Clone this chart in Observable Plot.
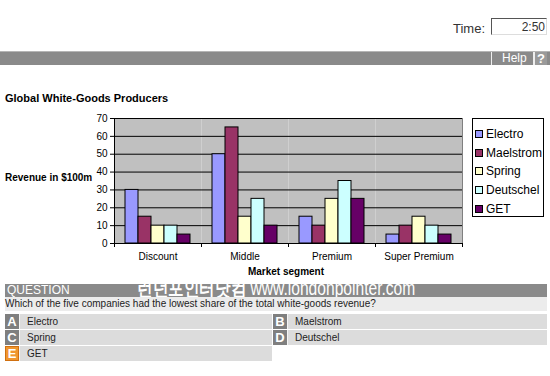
<!DOCTYPE html>
<html>
<head>
<meta charset="utf-8">
<script src="https://cdn.jsdelivr.net/npm/d3@7"></script>
<script src="https://cdn.jsdelivr.net/npm/@observablehq/plot@0.6"></script>
<style>
  html, body { margin: 0; padding: 0; background: #fff; }
  body { width: 550px; height: 376px; position: relative; overflow: hidden; font-family: "Liberation Sans", Arial, sans-serif; }
  .abs { position: absolute; white-space: nowrap; }
  .opt { position: absolute; height: 15px; background: #dcdcdc; }
  .opt .letter { position: absolute; left: 0; top: 0; width: 14px; height: 15px; background: #7f7f7f; color: #fff; font-weight: bold; font-size: 13px; line-height: 15px; text-align: center; }
  .opt .txt { position: absolute; left: 22px; top: 0; font-size: 10px; line-height: 15px; color: #222; }
  .legend-item { position: absolute; left: 2px; height: 14px; font-size: 12px; line-height: 14px; }
  .legend-item .sw { position: absolute; left: 0; top: 3px; width: 6px; height: 6px; border: 1px solid #000; }
  .legend-item .lt { position: absolute; left: 11px; top: 0; }
</style>
</head>
<body>
<div class="abs" style="left:453px;top:21px;font-size:13px;line-height:15px;color:#333;">Time:</div>
<div class="abs" style="left:491px;top:18px;width:53px;height:15px;border-style:solid;border-width:1px;border-color:#555 #ddd #ddd #555;font-size:12px;line-height:16px;text-align:right;padding-right:1px;color:#333;">2:50</div>

<div class="abs" style="left:0;top:51px;width:550px;height:13px;background:#8a8a8a;border-top:1px solid #b5b5b5;"></div>
<div class="abs" style="left:491px;top:52px;width:1px;height:13px;background:#eee;"></div>
<div class="abs" style="left:502px;top:52px;font-size:12px;line-height:13px;color:#fff;">Help</div>
<div class="abs" style="left:533px;top:52px;width:2px;height:13px;background:#eee;"></div>
<div class="abs" style="left:535px;top:52px;width:12px;height:13px;background:#9a9a9a;color:#fff;font-weight:bold;font-size:13px;line-height:13px;text-align:center;">?</div>

<div class="abs" style="left:5px;top:92px;font-size:11px;line-height:13px;font-weight:bold;color:#000;">Global White-Goods Producers</div>
<div class="abs" style="left:5px;top:172px;font-size:10px;line-height:12px;font-weight:bold;color:#000;">Revenue in $100m</div>
<div class="abs" style="left:186px;top:266px;width:200px;text-align:center;font-size:10px;line-height:12px;font-weight:bold;color:#000;">Market segment</div>

<div id="chart" class="abs" style="left:0;top:105px;"></div>
<div id="legend" class="abs" style="left:472px;top:118px;width:70px;height:97px;border:1px solid #000;background:#fff;"></div>

<div class="abs" style="left:5px;top:284px;width:542px;height:13px;background:#8a8a8a;"></div>
<div class="abs" style="left:7px;top:284px;font-size:12px;line-height:13px;color:#fff;">QUESTION</div>
<div class="abs" style="left:137px;top:278px;font-size:20px;line-height:20px;color:#fff;transform:scaleX(0.78);transform-origin:left top;"><b>런던포인터닷컴</b> www.londonpointer.com</div>
<div class="abs" style="left:5px;top:297px;width:542px;height:14px;background:#ececec;"></div>
<div class="abs" style="left:5px;top:297px;font-size:10px;line-height:14px;color:#222;">Which of the five companies had the lowest share of the total white-goods revenue?</div>
<div id="options"></div>

<script>
const segments = ["Discount", "Middle", "Premium", "Super Premium"];
const companies = ["Electro", "Maelstrom", "Spring", "Deutschel", "GET"];
const colors = ["#9999ff", "#993366", "#ffffcc", "#ccffff", "#660066"];
const electro   = [30, 50, 15, 5];
const maelstrom = [15, 65, 10, 10];
const spring    = [10, 15, 25, 15];
const deutschel = [10, 25, 35, 10];
const get       = [5, 10, 25, 5];
const yTicks = [0, 10, 20, 30, 40, 50, 60, 70];
const optionLetters = ["A", "B", "C", "D", "E"];
const optionTexts = ["Electro", "Maelstrom", "Spring", "Deutschel", "GET"];

const series = [electro, maelstrom, spring, deutschel, get];
const data = segments.flatMap((s, i) => companies.map((c, j) => ({segment: s, company: c, value: series[j][i]})));

const chart = Plot.plot({
  width: 550,
  height: 175,
  marginTop: 13,
  marginBottom: 37,
  marginLeft: 112,
  marginRight: 87,
  style: {fontFamily: "'Liberation Sans', Arial, sans-serif", fontSize: "10px", color: "#000", background: "transparent"},
  facet: {data, x: "segment"},
  fx: {domain: segments, padding: 0, label: null, tickSize: 0, tickPadding: 9, axis: "bottom"},
  x: {domain: companies, paddingInner: 0, paddingOuter: 0.8, axis: null},
  y: {domain: [0, 70], ticks: yTicks, tickSize: 4, tickPadding: 3, label: null, axis: "left"},
  color: {domain: companies, range: colors},
  marks: [
    Plot.frame({fill: "#c0c0c0", stroke: "none"}),
    Plot.ruleY(yTicks, {stroke: "#000", strokeWidth: 1}),
    Plot.barY(data, {x: "company", y: "value", fill: "company", stroke: "#000", strokeWidth: 1})
  ]
});
document.getElementById("chart").appendChild(chart);

// extra axis decorations positioned with the plot's own scales
(function () {
  const svg = d3.select(chart.tagName.toLowerCase() === "svg" ? chart : chart.querySelector("svg"));
  let fxS, yS;
  try { fxS = chart.scale("fx"); yS = chart.scale("y"); } catch (e) {}
  if (!fxS || !yS) return;
  const bw = fxS.bandwidth;
  const xs = segments.map(s => fxS.apply(s));
  xs.push(fxS.apply(segments[segments.length - 1]) + bw);
  const y0 = yS.apply(0), yTop = yS.apply(yTicks[yTicks.length - 1]);
  const g = svg.append("g").attr("shape-rendering", "crispEdges");
  g.append("line").attr("x1", xs[xs.length - 1] + 0.5).attr("x2", xs[xs.length - 1] + 0.5)
    .attr("y1", yTop).attr("y2", y0).attr("stroke", "#808080");
  g.append("line").attr("x1", xs[0] + 0.5).attr("x2", xs[0] + 0.5)
    .attr("y1", yTop).attr("y2", y0 + 4).attr("stroke", "#000");
  g.selectAll(".bt").data(xs.slice(1)).join("line")
    .attr("x1", d => d + 0.5).attr("x2", d => d + 0.5)
    .attr("y1", y0).attr("y2", y0 + 4).attr("stroke", "#000");
})();

// legend
const legend = document.getElementById("legend");
companies.forEach((c, i) => {
  const item = document.createElement("div");
  item.className = "legend-item";
  item.style.top = (8 + i * 18.7) + "px";
  item.innerHTML = `<div class="sw" style="background:${colors[i]}"></div><div class="lt">${c}</div>`;
  legend.appendChild(item);
});

// answer options
const opts = document.getElementById("options");
const rowsTop = [314, 314, 330, 330, 346];
optionLetters.forEach((L, i) => {
  const div = document.createElement("div");
  div.className = "opt";
  const left = i % 2 === 0 ? 5 : 273;
  const width = i % 2 === 0 ? 267 : 274;
  div.style.left = left + "px";
  div.style.top = rowsTop[i] + "px";
  div.style.width = width + "px";
  const isE = L === "E";
  div.innerHTML = `<div class="letter" style="${isE ? "background:#f0962e;box-shadow:inset 0 0 0 1px #d07010;" : ""}">${L}</div><div style="position:absolute;left:14px;top:0;width:1px;height:15px;background:#f4f4f4"></div><div class="txt">${optionTexts[i]}</div>`;
  opts.appendChild(div);
});
</script>
</body>
</html>
